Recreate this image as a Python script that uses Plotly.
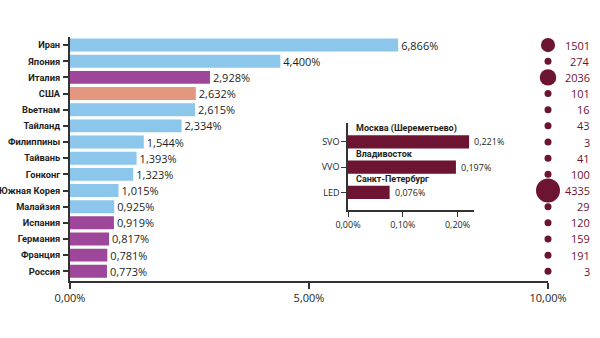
import plotly.graph_objects as go

countries = ["Иран", "Япония", "Италия", "США", "Вьетнам", "Тайланд", "Филиппины", "Тайвань",
             "Гонконг", "Южная Корея", "Малайзия", "Испания", "Германия", "Франция", "Россия"]
shares = [6.866, 4.400, 2.928, 2.632, 2.615, 2.334, 1.544, 1.393, 1.323, 1.015, 0.925, 0.919,
          0.817, 0.781, 0.773]
regions = ["asia", "asia", "europe", "usa", "asia", "asia", "asia", "asia", "asia", "asia", "asia",
           "europe", "europe", "europe", "europe"]
cases = [1501, 274, 2036, 101, 16, 43, 3, 41, 100, 4335, 29, 120, 159, 191, 3]

airports = ["SVO", "VVO", "LED"]
airport_names = ["Москва (Шереметьево)", "Владивосток", "Санкт-Петербург"]
airport_shares = [0.221, 0.197, 0.076]

main_ticks = [0, 5, 10]
inset_ticks = [0, 0.1, 0.2]

region_colors = {"asia": "#8cc6ea", "europe": "#9e4699", "usa": "#e2977e"}
MAROON = "#6c1431"
DARK = "#231f20"
FONT = "Open Sans"
LABEL_FONT = "Roboto"

def pct(v, d):
    return f"{v:.{d}f}".replace(".", ",") + "%"

fig = go.Figure()

fig.add_trace(go.Bar(
    y=countries, x=shares, orientation="h",
    marker=dict(color=[region_colors[r] for r in regions], line=dict(width=0)),
    width=0.8,
    text=[pct(v, 3) for v in shares], textposition="outside", constraintext="none",
    textfont=dict(family=FONT, size=11, color=DARK),
    cliponaxis=False, xaxis="x", yaxis="y", showlegend=False,
))

max_case = max(cases)
fig.add_trace(go.Scatter(
    y=countries, x=[10] * len(countries), mode="markers",
    marker=dict(size=cases, sizemode="area", sizeref=2.0 * max_case / (24 ** 2), sizemin=3.5,
                color=MAROON, opacity=1, line=dict(width=0)),
    cliponaxis=False, xaxis="x", yaxis="y", showlegend=False,
))

for c, n in zip(countries, cases):
    fig.add_annotation(x=592 / 600, xref="paper", y=c, yref="y", text=str(n),
                       xanchor="right", showarrow=False,
                       font=dict(family=FONT, size=11, color=MAROON))

fig.add_trace(go.Bar(
    y=airports, x=airport_shares, orientation="h",
    marker=dict(color=MAROON, line=dict(width=0)), width=0.52,
    cliponaxis=False, xaxis="x2", yaxis="y2", showlegend=False,
))

for a, v in zip(airports, airport_shares):
    fig.add_annotation(x=v, xref="x2", y=a, yref="y2", text=pct(v, 3),
                       xanchor="left", xshift=3, showarrow=False,
                       font=dict(family=FONT, size=9, color=DARK))

for i, name in enumerate(airport_names):
    fig.add_annotation(x=354 / 600, xref="paper", y=i - 0.52, yref="y2", text=name,
                       xanchor="left", yanchor="middle", showarrow=False,
                       font=dict(family=LABEL_FONT, size=9, color=DARK, weight="bold"))

fig.update_layout(
    width=600, height=338, margin=dict(l=0, r=0, t=0, b=0),
    paper_bgcolor="white", plot_bgcolor="rgba(0,0,0,0)",
    bargap=0.2,
    font=dict(family=FONT, color=DARK),
    xaxis=dict(domain=[70 / 600, 548 / 600], range=[0, 10], tickvals=main_ticks,
               ticktext=[pct(v, 2) for v in main_ticks], automargin=False,
               showgrid=False, zeroline=False,
               showline=True, linecolor="#333333", linewidth=2,
               ticks="outside", ticklen=6, tickwidth=1.5, tickcolor="#333333",
               tickfont=dict(family=FONT, size=11, color=DARK), anchor="y"),
    yaxis=dict(domain=[1 - 281 / 338, 1 - 37 / 338], range=[14.6, -0.5], type="category",
               automargin=False,
               showgrid=False, zeroline=False, showline=True, linecolor="#333333", linewidth=2,
               ticks="outside", ticklen=5, tickwidth=1.5, tickcolor="#333333",
               ticklabelstandoff=1,
               tickfont=dict(family=LABEL_FONT, size=9.3, color=DARK, weight="bold"), anchor="x"),
    xaxis2=dict(domain=[348 / 600, 474 / 600], range=[0, 0.23], tickvals=inset_ticks,
                ticktext=[pct(v, 2) for v in inset_ticks], automargin=False,
                showgrid=False, zeroline=False,
                showline=True, linecolor="#333333", linewidth=1.5,
                ticks="outside", ticklen=5, tickwidth=1, tickcolor="#333333",
                tickfont=dict(family=FONT, size=9, color=DARK), anchor="y2"),
    yaxis2=dict(domain=[1 - 210 / 338, 1 - 123 / 338], range=[2.7, -0.75], type="category",
                automargin=False,
                showgrid=False, zeroline=False, showline=True, linecolor="#333333", linewidth=1.5,
                ticks="outside", ticklen=5, tickwidth=1, tickcolor="#333333",
                tickfont=dict(family=FONT, size=9, color=DARK), anchor="x2"),
)

fig.write_html("out.html")
